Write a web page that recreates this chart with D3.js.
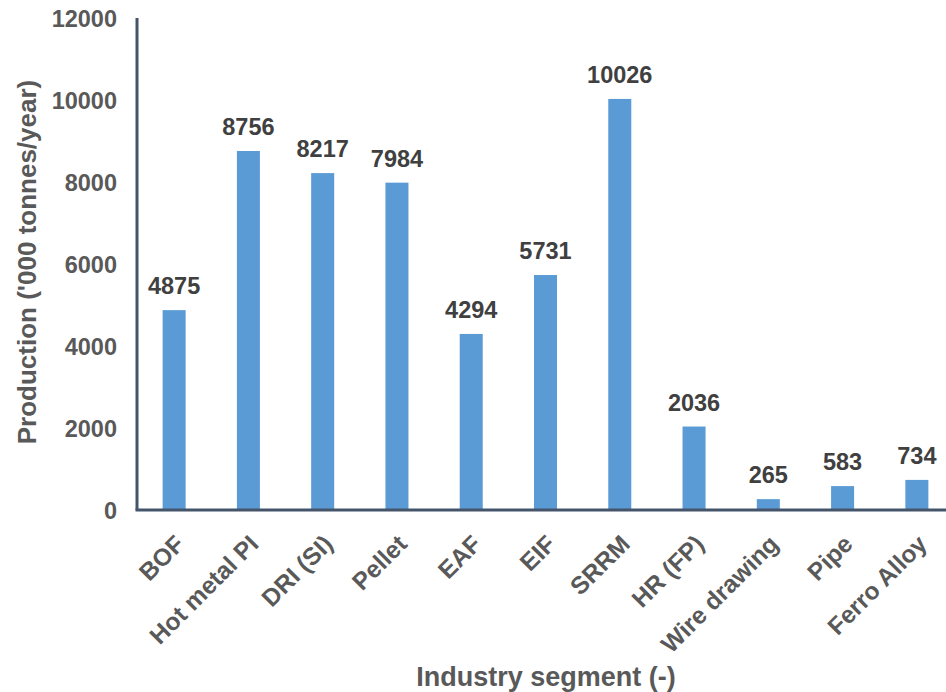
<!DOCTYPE html>
<html>
<head>
<meta charset="utf-8">
<script src="https://cdn.jsdelivr.net/npm/d3@7"></script>
<style>
  html, body { margin: 0; padding: 0; background: #fff; }
  svg { display: block; font-family: "Liberation Sans", Arial, sans-serif; }
</style>
</head>
<body>
<svg id="chart" width="946" height="692"></svg>
<script>
// Production by industry segment ('000 tonnes/year)
const categories = ["BOF", "Hot metal PI", "DRI (SI)", "Pellet", "EAF", "EIF", "SRRM", "HR (FP)", "Wire drawing", "Pipe", "Ferro Alloy"];
const values = [4875, 8756, 8217, 7984, 4294, 5731, 10026, 2036, 265, 583, 734];
const yTicks = [0, 2000, 4000, 6000, 8000, 10000, 12000];

const FONT = "Liberation Sans, Arial, sans-serif";
const svg = d3.select("#chart");
const plotLeft = 137, plotBottom = 510, plotTop = 18, plotRight = 954;

const x = d3.scaleBand().domain(categories).range([plotLeft, plotRight]).paddingInner(0.69).paddingOuter(0.345);
const y = d3.scaleLinear().domain([0, 12000]).range([plotBottom, plotTop]);

// bars
svg.selectAll("rect.bar").data(values).join("rect")
  .attr("class", "bar")
  .attr("x", (d, i) => x(categories[i]))
  .attr("y", d => y(d))
  .attr("width", x.bandwidth())
  .attr("height", d => y(0) - y(d))
  .attr("fill", "#5b9bd5");

// value labels
svg.selectAll("text.val").data(values).join("text")
  .attr("class", "val")
  .attr("x", (d, i) => x(categories[i]) + x.bandwidth() / 2)
  .attr("y", d => y(d) - 16)
  .attr("text-anchor", "middle")
  .attr("font-family", FONT)
  .attr("font-size", 23.5)
  .attr("font-weight", "bold")
  .attr("fill", "#404040")
  .text(d => d);

// y axis
const yAxis = svg.append("g").attr("transform", `translate(${plotLeft},0)`)
  .call(d3.axisLeft(y).tickValues(yTicks).tickSize(0).tickPadding(20).tickFormat(d3.format("d")));
yAxis.select(".domain").attr("stroke", "#44546a").attr("stroke-width", 3).attr("d", `M0,${plotTop}V${plotBottom}`);
yAxis.selectAll("text").attr("font-size", 23.5).attr("font-weight", "bold").attr("fill", "#595959")
  .attr("font-family", FONT).attr("dy", "0.35em");

// x axis
const xAxis = svg.append("g").attr("transform", `translate(0,${plotBottom})`)
  .call(d3.axisBottom(x).tickSize(0).tickPadding(0));
xAxis.select(".domain").attr("stroke", "#44546a").attr("stroke-width", 3).attr("d", `M${plotLeft - 1.5},0H946`);
xAxis.selectAll("text")
  .attr("font-size", 24.5).attr("font-weight", "bold").attr("fill", "#595959")
  .attr("font-family", FONT)
  .attr("text-anchor", "end")
  .attr("dy", null).attr("y", 0)
  .attr("transform", "translate(7,31) rotate(-45)")
  .attr("dominant-baseline", "middle");

// axis titles
svg.append("text")
  .attr("transform", "translate(36,262) rotate(-90)")
  .attr("text-anchor", "middle")
  .attr("font-family", FONT)
  .attr("font-size", 26).attr("font-weight", "bold").attr("fill", "#595959")
  .text("Production ('000 tonnes/year)");

svg.append("text")
  .attr("x", 546).attr("y", 686)
  .attr("text-anchor", "middle")
  .attr("font-family", FONT)
  .attr("font-size", 27).attr("font-weight", "bold").attr("fill", "#595959")
  .text("Industry segment (-)");
</script>
</body>
</html>
